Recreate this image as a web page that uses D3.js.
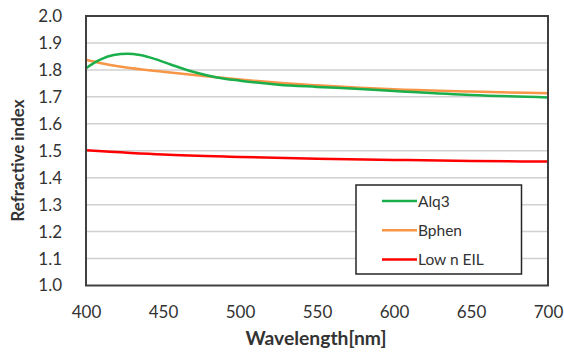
<!DOCTYPE html>
<html><head><meta charset="utf-8">
<script src="https://cdn.jsdelivr.net/npm/d3@7"></script>
<style>
body{margin:0;background:#fff;}
svg text{font-family:Lato,"Open Sans",sans-serif;fill:#333;}
</style></head>
<body><svg id="c" width="564" height="352"></svg>
<script>
const wlAlq3 = [400,405,410,418,427,435,445,455,470,485,500,525,550,575,600,650,700];
const nAlq3  = [1.806,1.825,1.840,1.855,1.860,1.855,1.840,1.820,1.792,1.772,1.760,1.745,1.737,1.730,1.722,1.707,1.698];
const wlBphen = [400,410,425,450,475,500,525,550,575,600,650,700];
const nBphen  = [1.838,1.825,1.810,1.793,1.778,1.764,1.752,1.743,1.735,1.728,1.720,1.713];
const wlEIL = [400,450,500,550,600,650,700];
const nEIL  = [1.502,1.486,1.477,1.470,1.466,1.462,1.460];
const seriesNames = ["Alq3","Bphen","Low n EIL"];
const seriesColors = ["#1aaf4b","#f79646","#ff0000"];
const xTicks = [400,450,500,550,600,650,700];
const yTicks = [1.0,1.1,1.2,1.3,1.4,1.5,1.6,1.7,1.8,1.9,2.0];

const svg = d3.select("#c");
const L=86,R=548,T=16,B=285.5;
const x = d3.scaleLinear().domain([400,700]).range([L,R]);
const y = d3.scaleLinear().domain([1.0,2.0]).range([B,T]);

// gridlines
svg.append("g").selectAll("line").data(yTicks.slice(1,-1)).join("line")
  .attr("x1",L).attr("x2",R).attr("y1",d=>y(d)).attr("y2",d=>y(d))
  .attr("stroke","#d0d0d0").attr("stroke-width",1.5);

// y axis labels
const ya = svg.append("g").attr("transform",`translate(${L},0)`)
  .call(d3.axisLeft(y).tickValues(yTicks).tickFormat(d3.format(".1f")).tickSize(0).tickPadding(24));
ya.select(".domain").remove();
ya.selectAll("text").attr("font-size",17).style("font-family","Lato,sans-serif").attr("fill","#333");

const xa = svg.append("g").attr("transform",`translate(0,${B})`)
  .call(d3.axisBottom(x).tickValues(xTicks).tickFormat(d3.format("d")).tickSize(0).tickPadding(20));
xa.select(".domain").remove();
xa.selectAll("text").attr("font-size",17).style("font-family","Lato,sans-serif").attr("fill","#333");

// lines
const line = d3.line().x(d=>x(d[0])).y(d=>y(d[1])).curve(d3.curveMonotoneX);
const data = [
  d3.zip(wlAlq3,nAlq3),
  d3.zip(wlBphen,nBphen),
  d3.zip(wlEIL,nEIL)
];
const order=[2,1,0];
svg.append("g").selectAll("path").data(order).join("path")
  .attr("d",i=>line(data[i])).attr("fill","none")
  .attr("stroke",i=>seriesColors[i]).attr("stroke-width",2.5);

// frame
svg.append("rect").attr("x",L).attr("y",T).attr("width",R-L).attr("height",B-T)
  .attr("fill","none").attr("stroke","#404040").attr("stroke-width",2);

// legend
const lg = svg.append("g");
lg.append("rect").attr("x",356).attr("y",185).attr("width",165.5).attr("height",89)
  .attr("fill","#fff").attr("stroke","#262626").attr("stroke-width",1.5);
seriesNames.forEach((n,i)=>{
  const yy = 201 + i*29.3;
  lg.append("line").attr("x1",382).attr("x2",417).attr("y1",yy).attr("y2",yy)
    .attr("stroke",seriesColors[i]).attr("stroke-width",2.5);
  lg.append("text").attr("x",418).attr("y",yy).attr("dy","0.36em")
    .attr("font-size",15.5).text(n);
});

// axis titles
svg.append("text").attr("x",316).attr("y",345).attr("text-anchor","middle")
  .attr("font-size",19.3).attr("font-weight","bold").text("Wavelength[nm]");
svg.append("text").attr("transform",`translate(24,160.5) rotate(-90)`)
  .attr("text-anchor","middle").attr("font-size",16.9).attr("font-weight","bold").text("Refractive index");
</script></body></html>
